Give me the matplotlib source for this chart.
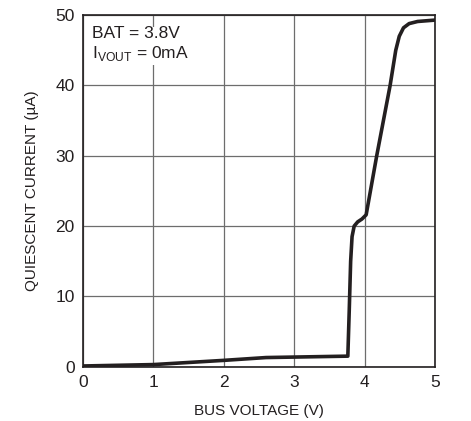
import numpy as np
import matplotlib.pyplot as plt

plt.rcParams['font.family'] = ['Liberation Sans', 'DejaVu Sans']

# bus voltage (V) vs quiescent current (uA)
bus_v = [0, 1, 2, 2.6, 3.76, 3.78, 3.80, 3.82, 3.85, 3.90, 3.96, 4.02,
         4.17, 4.36, 4.44, 4.49, 4.55, 4.63, 4.75, 5.0]
iq = [0.1, 0.3, 0.9, 1.3, 1.5, 8, 15, 18.5, 20.0, 20.6, 21.0, 21.6,
      30, 40, 45, 47, 48.2, 48.8, 49.1, 49.3]

xticks = [0, 1, 2, 3, 4, 5]
yticks = [0, 10, 20, 30, 40, 50]

fig = plt.figure(figsize=(4.71, 4.21), dpi=100)
ax = fig.add_axes([0.176, 0.129, 0.748, 0.835])

ax.plot(bus_v, iq, color='#231f20', lw=2.6, solid_joinstyle='round', zorder=3)

ax.set_xlim(0, 5)
ax.set_ylim(0, 50)
ax.set_xticks(xticks)
ax.set_yticks(yticks)
ax.grid(True, color='#6d6d6d', lw=0.9)
ax.tick_params(length=0, labelsize=12.5, colors='#231f20', pad=6)
for s in ax.spines.values():
    s.set_color('#231f20')
    s.set_linewidth(1.2)

ax.set_xlabel('BUS VOLTAGE (V)', fontsize=11, color='#231f20', labelpad=10)
ax.set_ylabel('QUIESCENT CURRENT (µA)', fontsize=11, color='#231f20', labelpad=12)

ax.text(0.13, 48.4, 'BAT = 3.8V\nI$_{\\mathregular{VOUT}}$ = 0mA', fontsize=12.5,
        color='#231f20', va='top', ha='left', linespacing=1.2,
        bbox=dict(facecolor='white', edgecolor='none', pad=1), zorder=4)

fig.savefig('out.png', dpi=100)
